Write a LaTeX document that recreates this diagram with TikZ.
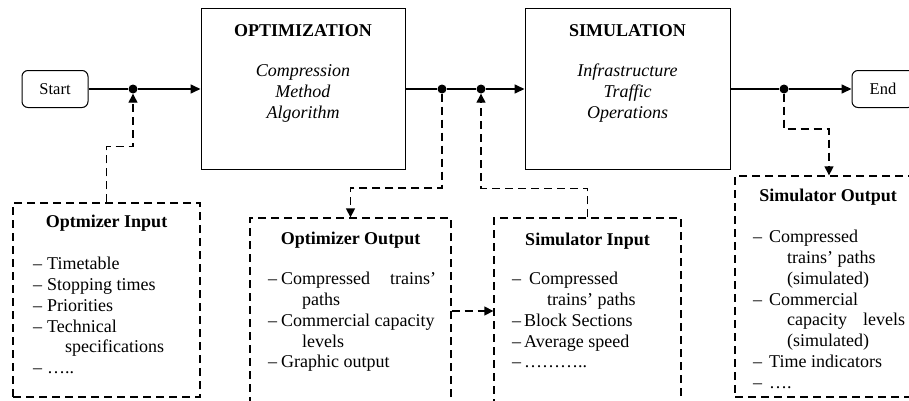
\documentclass[tikz,border=0pt]{standalone}
\usepackage{fontspec}
\setmainfont{Liberation Serif}
\usetikzlibrary{arrows.meta,positioning}
\newcommand{\itm}[1][14pt]{\makebox[#1][l]{–}}

\begin{document}
\begin{tikzpicture}[x=1pt, y=1pt,
    every node/.style={font=\fontsize{18}{20.8}\selectfont, inner sep=0pt},
    mainbox/.style={draw, line width=1pt, minimum width=204pt, minimum height=160pt},
    endbox/.style={draw, line width=1pt, rounded corners=6pt, minimum width=66pt, minimum height=37pt, font=\fontsize{16.5}{19}\selectfont},
    databox/.style={draw, line width=1.3pt, dash pattern=on 8pt off 5pt},
    jdot/.style={circle, fill, minimum size=9pt},
    flow/.style={line width=1.6pt, -{Triangle[length=10pt, width=9pt]}},
    dflow/.style={line width=1.3pt, dash pattern=on 8pt off 5pt, -{Triangle[length=9pt, width=9pt]}},
    ttl/.style={font=\fontsize{18}{20.8}\selectfont\bfseries},
    lst/.style={align=left, anchor=north west}]
    \useasboundingbox (0,0) rectangle (909,400);
    \clip (0,0) rectangle (909,400);

    % Main chain
    \node[endbox] (start) at (55,311) {Start};
    \node[mainbox] (opt) at (303,311) {};
    \node[anchor=north, align=center] (optlbl) at ([yshift=-16pt]opt.north) {\textbf{OPTIMIZATION}\\[19pt]\textit{Compression}\\ \textit{Method}\\ \textit{Algorithm}};
    \node[mainbox, minimum width=205pt] (sim) at (627.5,311) {};
    \node[anchor=north, align=center] (simlbl) at ([yshift=-16pt]sim.north) {\textbf{SIMULATION}\\[19pt]\textit{Infrastructure}\\ \textit{Traffic}\\ \textit{Operations}};
    \node[endbox, minimum width=62pt] (end) at (883,311) {End};

    % Junctions
    \node[jdot] (d1) at (133,311) {};
    \node[jdot] (d2) at (442,311) {};
    \node[jdot] (d3) at (481,311) {};
    \node[jdot] (d4) at (784,311) {};

    \draw[flow] (start) -- (d1) -- (opt);
    \draw[flow] (opt) -- (d2) -- (d3) -- (sim);
    \draw[flow] (sim) -- (d4) -- (end);

    % Optimizer input
    \node[databox, minimum width=187pt, minimum height=194pt] (optin) at (106.5,100) {};
    \node[ttl] (optinttl) at (106.5,177) {Optmizer Input};
    \node[lst] (optinlst) at (33,143) {\itm Timetable\\ \itm Stopping times\\ \itm Priorities\\ \itm Technical\\ \hspace*{32pt}specifications\\ \itm …..};

    % Optimizer output
    \node[databox, minimum width=201pt, minimum height=186pt] (optout) at (350.5,89) {};
    \node[ttl] (optoutttl) at (350.5,160) {Optimizer Output};
    \node[lst] (optoutlst) at (268,128) {\itm[13pt]\makebox[155pt][l]{Compressed\hfill trains’}\\ \hspace*{34pt}paths\\ \itm[13pt]Commercial capacity\\ \hspace*{34pt}levels\\ \itm[13pt]Graphic output};

    % Simulator input
    \node[databox, minimum width=187pt, minimum height=186pt] (simin) at (587.5,89) {};
    \node[ttl] (siminttl) at (587.5,159) {Simulator Input};
    \node[lst] (siminlst) at (512,128) {\itm[17pt]Compressed\\ \hspace*{35pt}trains’ paths\\ \itm[12pt]Block Sections\\ \itm[12pt]Average speed\\ \itm[12pt]………..};

    % Simulator output
    \node[databox, minimum width=188pt, minimum height=221pt] (simout) at (829,113.5) {};
    \node[ttl] (simoutttl) at (828,203) {Simulator Output};
    \node[lst] (simoutlst) at (753,170) {\itm[16pt]Compressed\\ \hspace*{34pt}trains’ paths\\ \hspace*{34pt}(simulated)\\ \itm[16pt]Commercial\\ \hspace*{34pt}\makebox[118pt][l]{capacity\hfill levels}\\ \hspace*{34pt}(simulated)\\ \itm[16pt]Time indicators\\ \itm[16pt]….};

    % Data links
    \draw[dflow] (optin.north) -- ++(0,56) -| (d1);
    \draw[dflow] (d2) -- ++(0,-99) -| (optout.north);
    \draw[dflow] (simin.north) -- ++(0,29) -| (d3);
    \draw[dflow] (d4) -- ++(0,-40) -| (simout.north);
    \draw[dflow] (optout) -- (simin);
\end{tikzpicture}
\end{document}
